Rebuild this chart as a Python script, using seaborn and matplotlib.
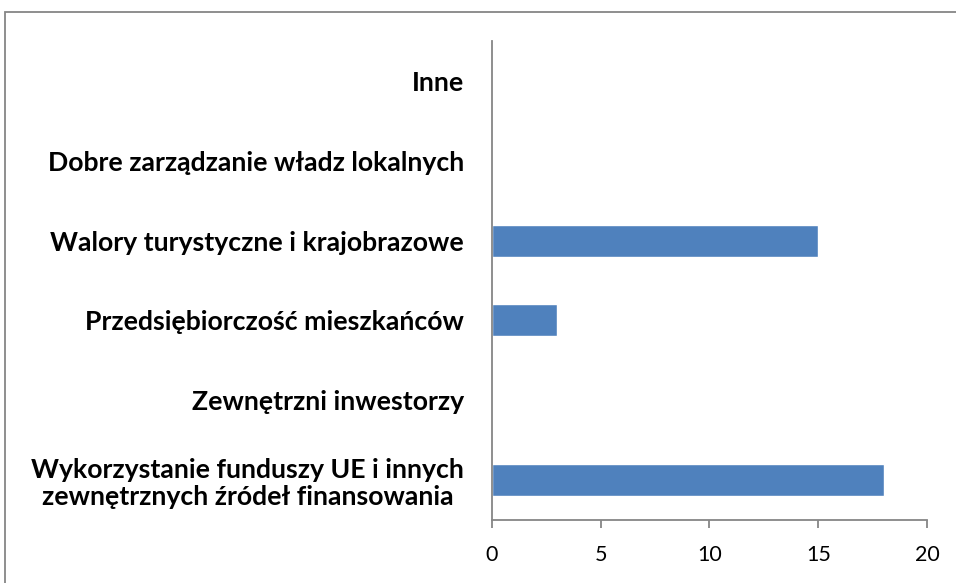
import matplotlib
matplotlib.use("Agg")
import matplotlib.pyplot as plt
from matplotlib.patches import Rectangle
import seaborn as sns
import pandas as pd

categories = [
    "Inne",
    "Dobre zarządzanie władz lokalnych",
    "Walory turystyczne i krajobrazowe",
    "Przedsiębiorczość mieszkańców",
    "Zewnętrzni inwestorzy",
    "Wykorzystanie funduszy UE i innych\nzewnętrznych źródeł finansowania",
]
values = [0, 0, 15, 3, 0, 18]
x_ticks = [0, 5, 10, 15, 20]

sns.set_theme(style="white")
plt.rcParams["font.family"] = ["Lato", "DejaVu Sans"]

df = pd.DataFrame({"cat": categories, "val": values})

fig = plt.figure(figsize=(9.56, 5.83), dpi=100)
ax = fig.add_axes([0.5146, 0.1081, 0.9697 - 0.5146, 0.9297 - 0.1081])

sns.barplot(data=df, y="cat", x="val", orient="h", color="#4F81BD",
            saturation=1, width=0.4, ax=ax, order=categories)

ax.set_xlim(0, 20)
ax.set_ylim(len(categories) - 0.5, -0.5)
ax.set_xticks(x_ticks)
ax.set_xlabel("")
ax.set_ylabel("")

gray = "#868686"
for s in ["top", "right"]:
    ax.spines[s].set_visible(False)
for s in ["left", "bottom"]:
    ax.spines[s].set_color(gray)
    ax.spines[s].set_linewidth(1.3)

# y ticks at category boundaries
ax.set_yticks([i + 0.5 for i in range(-1, len(categories))], minor=True)
ax.tick_params(axis="y", which="major", length=0, pad=20)
ax.tick_params(axis="y", which="minor", length=6.5, width=1.3, color=gray, direction="out")
ax.tick_params(axis="x", which="major", length=6, width=1.3, color=gray, direction="out",
               pad=12, labelsize=15.5, labelcolor="black")
ax.tick_params(axis="x", bottom=True)

for lbl in ax.get_yticklabels():
    lbl.set_fontweight("bold")
    lbl.set_fontsize(19.2)
    lbl.set_color("black")
    lbl.set_multialignment("center")
    lbl.set_linespacing(1.15)

fig.add_artist(Rectangle((5 / 956, -0.05), 1.2, 1 - 12 / 583 + 0.05,
                         transform=fig.transFigure, fill=False,
                         edgecolor=gray, linewidth=1.3))

fig.savefig("out.png", dpi=100)
